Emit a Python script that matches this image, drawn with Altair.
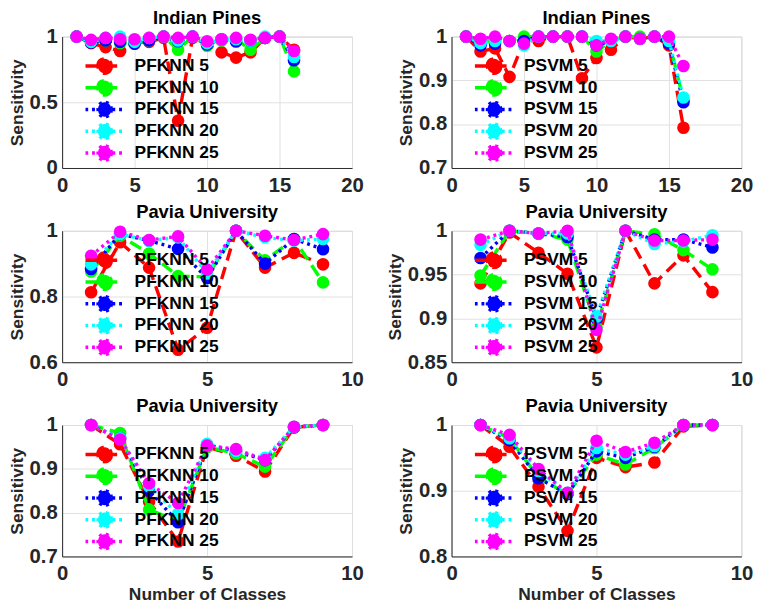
import altair as alt
import pandas as pd

# ---------------- data ----------------
classes_ip = list(range(1, 17))
classes_pu = list(range(1, 10))

ip_pfknn = {
    "PFKNN 5":  [1.0, 0.95, 0.92, 0.89, 0.95, 0.96, 0.99, 0.36, 0.99, 0.94, 0.88, 0.84, 0.88, 0.99, 1.0, 0.90],
    "PFKNN 10": [1.0, 0.96, 0.97, 0.95, 0.95, 0.97, 1.0, 0.90, 1.0, 0.93, 0.97, 0.98, 0.90, 0.99, 1.0, 0.735],
    "PFKNN 15": [1.0, 0.955, 0.97, 0.96, 0.945, 0.97, 1.0, 0.965, 1.0, 0.94, 0.98, 0.963, 0.97, 0.99, 1.0, 0.82],
    "PFKNN 20": [1.0, 0.96, 0.99, 1.0, 0.96, 0.99, 1.0, 0.97, 1.0, 0.95, 0.98, 0.98, 0.97, 1.0, 1.0, 0.845],
    "PFKNN 25": [1.0, 0.975, 0.99, 0.98, 0.98, 0.99, 1.0, 0.99, 1.0, 0.965, 0.98, 0.99, 0.976, 0.99, 1.0, 0.89],
}
ip_psvm = {
    "PSVM 5":  [1.0, 0.966, 0.973, 0.908, 0.99, 0.99, 1.0, 1.0, 0.905, 0.951, 0.97, 1.0, 0.995, 1.0, 0.98, 0.792],
    "PSVM 10": [1.0, 0.99, 0.99, 0.99, 1.0, 1.0, 1.0, 1.0, 1.0, 0.966, 0.99, 1.0, 1.0, 1.0, 0.99, 0.855],
    "PSVM 15": [1.0, 0.98, 0.984, 0.99, 0.99, 1.0, 1.0, 1.0, 1.0, 0.98, 0.99, 1.0, 0.995, 1.0, 0.984, 0.85],
    "PSVM 20": [1.0, 0.985, 0.99, 0.99, 0.98, 1.0, 1.0, 1.0, 1.0, 0.99, 0.99, 1.0, 0.995, 1.0, 0.99, 0.861],
    "PSVM 25": [1.0, 0.995, 1.0, 0.99, 0.984, 1.0, 1.0, 1.0, 1.0, 0.98, 0.995, 1.0, 0.995, 1.0, 1.0, 0.933],
}
pu_pfknn_a = {
    "PFKNN 5":  [0.813, 0.965, 0.888, 0.638, 0.705, 1.0, 0.888, 0.933, 0.898],
    "PFKNN 10": [0.876, 0.985, 0.931, 0.862, 0.86, 1.0, 0.91, 0.975, 0.843],
    "PFKNN 15": [0.884, 0.99, 0.97, 0.945, 0.856, 1.0, 0.90, 0.975, 0.944],
    "PFKNN 20": [0.898, 0.99, 0.97, 0.98, 0.87, 1.0, 0.98, 0.97, 0.975],
    "PFKNN 25": [0.924, 0.997, 0.972, 0.983, 0.882, 1.0, 0.985, 0.972, 0.99],
}
pu_psvm_a = {
    "PSVM 5":  [0.94, 0.998, 0.975, 0.951, 0.867, 1.0, 0.94, 0.972, 0.93],
    "PSVM 10": [0.949, 1.0, 0.997, 0.99, 0.89, 1.0, 0.996, 0.978, 0.956],
    "PSVM 15": [0.969, 1.0, 0.997, 0.993, 0.90, 1.0, 0.99, 0.99, 0.981],
    "PSVM 20": [0.984, 1.0, 0.997, 0.997, 0.902, 1.0, 0.985, 0.988, 0.995],
    "PSVM 25": [0.99, 1.0, 0.997, 1.0, 0.887, 1.0, 0.989, 0.989, 0.99],
}
pu_pfknn_b = {
    "PFKNN 5":  [1.0, 0.956, 0.825, 0.734, 0.95, 0.93, 0.894, 0.995, 1.0],
    "PFKNN 10": [1.0, 0.982, 0.807, 0.78, 0.95, 0.935, 0.905, 0.995, 1.0],
    "PFKNN 15": [1.0, 0.97, 0.85, 0.778, 0.955, 0.94, 0.92, 0.995, 1.0],
    "PFKNN 20": [1.0, 0.97, 0.86, 0.796, 0.957, 0.94, 0.925, 0.996, 1.0],
    "PFKNN 25": [1.0, 0.967, 0.867, 0.822, 0.953, 0.945, 0.92, 0.996, 1.0],
}
pu_psvm_b = {
    "PSVM 5":  [1.0, 0.967, 0.906, 0.839, 0.95, 0.936, 0.943, 0.998, 1.0],
    "PSVM 10": [1.0, 0.98, 0.92, 0.895, 0.955, 0.94, 0.965, 1.0, 1.0],
    "PSVM 15": [1.0, 0.977, 0.919, 0.895, 0.96, 0.95, 0.967, 1.0, 1.0],
    "PSVM 20": [1.0, 0.98, 0.93, 0.897, 0.965, 0.955, 0.968, 1.0, 1.0],
    "PSVM 25": [1.0, 0.985, 0.933, 0.897, 0.976, 0.959, 0.973, 1.0, 1.0],
}

colors = ["#ff0000", "#00ff00", "#0000ff", "#00ffff", "#ff00ff"]
dashes = [[13, 7], [13, 7], [3, 4], [3, 4], [3, 4]]

LEG_PATH = ("M-1.23,0L3.94,0M2.23,0A0.88,0.88,0,1,1,0.48,0"
            "A0.88,0.88,0,1,1,2.23,0Z")

FONT = "Liberation Sans"
AX = "#262626"


def panel(title, classes, series, xmax, ymin, yticks, xtitle):
    names = list(series.keys())
    rows = []
    for n in names:
        for c, v in zip(classes, series[n]):
            rows.append({"cls": c, "val": v, "series": n})
    df = pd.DataFrame(rows)
    base = alt.Chart(df)
    xenc = alt.X("cls:Q", scale=alt.Scale(domain=[0, xmax], nice=False),
                 axis=alt.Axis(values=list(range(0, xmax + 1, 5)),
                               title=xtitle, labelFlush=False, labelPadding=7,
                               titlePadding=3))
    yenc = alt.Y("val:Q", scale=alt.Scale(domain=[ymin, 1], nice=False, zero=False),
                 axis=alt.Axis(values=yticks, title="Sensitivity", format="~g",
                               labelFlush=False, labelOverlap=False, labelPadding=5,
                               titlePadding=3))
    leg = alt.Legend(title=None, orient="none", legendX=24, legendY=21)
    cenc = alt.Color("series:N", scale=alt.Scale(domain=names, range=colors), legend=leg)
    denc = alt.StrokeDash("series:N", scale=alt.Scale(domain=names, range=dashes), legend=leg)
    layers = []
    for n in names:
        sub = base.transform_filter(alt.datum.series == n)
        layers.append(sub.mark_line(strokeWidth=3.5).encode(x=xenc, y=yenc, color=cenc, strokeDash=denc))
        layers.append(sub.mark_point(filled=True, size=170, opacity=1, strokeWidth=0)
                      .encode(x=xenc, y=yenc, color=cenc))
    return alt.layer(*layers).properties(
        width=300, height=136,
        title=alt.TitleParams(title, fontSize=19, fontWeight="bold", color="black",
                              font=FONT, offset=-2, frame="group", anchor="middle"),
    )


p1 = panel("Indian Pines", classes_ip, ip_pfknn, 20, 0, [0, 0.5, 1], None)
p2 = panel("Indian Pines", classes_ip, ip_psvm, 20, 0.7, [0.7, 0.8, 0.9, 1], None)
p3 = panel("Pavia University", classes_pu, pu_pfknn_a, 10, 0.6, [0.6, 0.8, 1], None)
p4 = panel("Pavia University", classes_pu, pu_psvm_a, 10, 0.85, [0.85, 0.9, 0.95, 1], None)
p5 = panel("Pavia University", classes_pu, pu_pfknn_b, 10, 0.7, [0.7, 0.8, 0.9, 1], "Number of Classes")
p6 = panel("Pavia University", classes_pu, pu_psvm_b, 10, 0.8, [0.8, 0.9, 1], "Number of Classes")

chart = alt.concat(p1, p2, p3, p4, p5, p6, columns=2,
                   spacing={"row": 7, "column": 22}).resolve_scale(
    color="independent", strokeDash="independent", x="independent", y="independent"
).resolve_legend(color="independent", strokeDash="independent").properties(
    padding={"top": -10, "left": 0, "right": 0, "bottom": 0}, background="white"
).configure_view(stroke="#cfcfcf", strokeWidth=1).configure_axis(
    labelFont=FONT, labelFontSize=21, labelFontWeight="bold", labelColor=AX,
    titleFont=FONT, titleFontSize=18, titleFontWeight="bold", titleColor=AX,
    grid=True, gridColor="#e0e0e0", gridWidth=1, domainColor=AX, domainWidth=1,
    ticks=False,
).configure_legend(
    symbolType=LEG_PATH, symbolSize=240, symbolStrokeWidth=3.5, clipHeight=19,
    labelFont=FONT, labelFontSize=18, labelFontWeight="bold", labelColor="black",
    labelOffset=32, rowPadding=3.5, symbolOpacity=1,
)

chart.save("out.html", embed_options={"renderer": "svg", "actions": False})
